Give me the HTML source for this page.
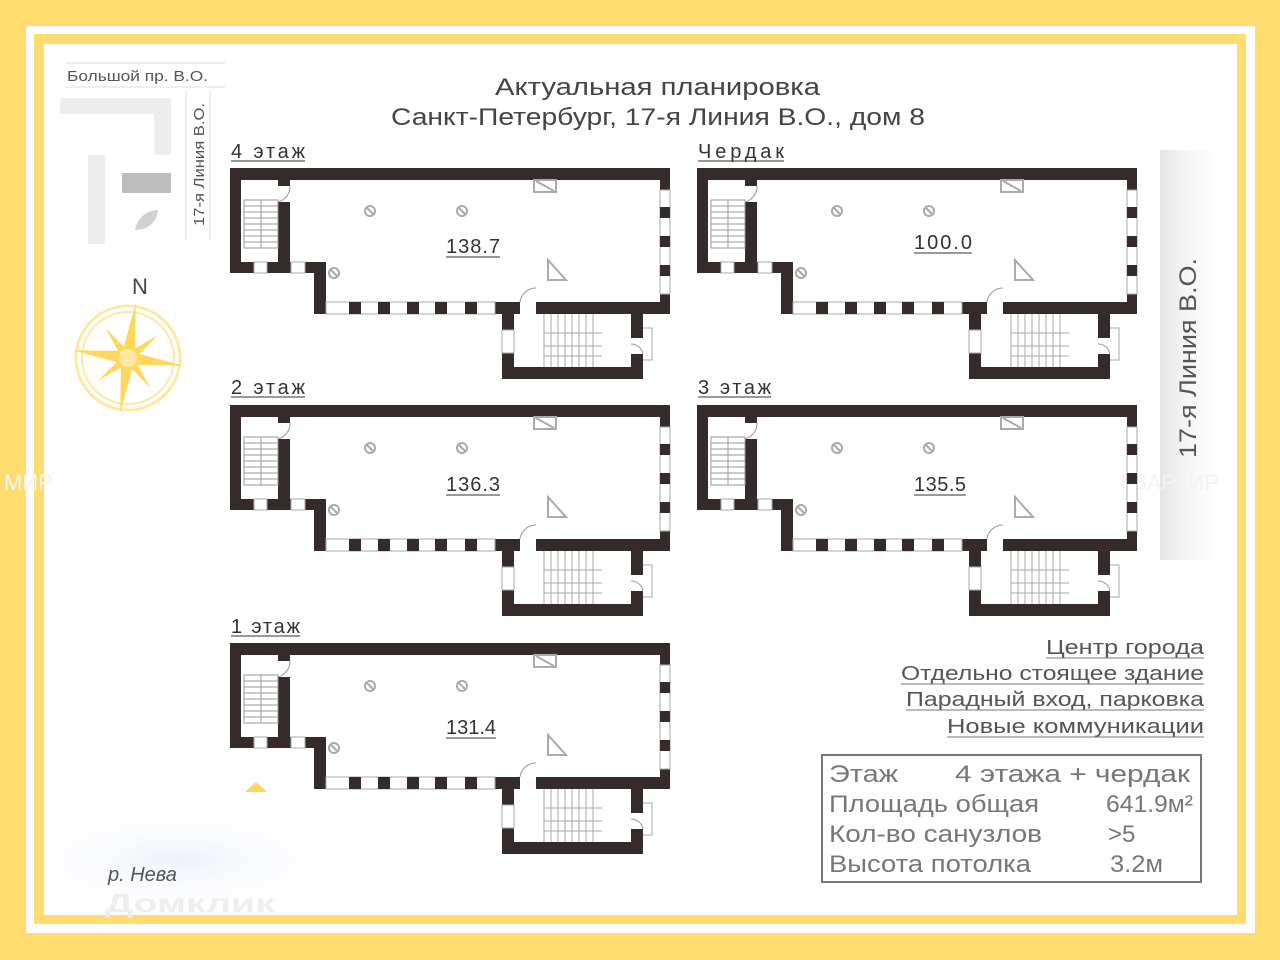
<!DOCTYPE html>
<html><head><meta charset="utf-8"><style>
html,body{margin:0;padding:0;width:1280px;height:960px;overflow:hidden;background:#fedc6e}
svg{display:block}
text{font-family:"Liberation Sans","DejaVu Sans",sans-serif}
</style></head><body>
<svg width="1280" height="960" viewBox="0 0 1280 960" xmlns="http://www.w3.org/2000/svg">
<defs>
<linearGradient id="band" x1="0" y1="0" x2="1" y2="0">
<stop offset="0" stop-color="#e4e4e4"/><stop offset="0.5" stop-color="#f6f6f6"/><stop offset="1" stop-color="#fff"/></linearGradient>
<radialGradient id="wave" cx="0.4" cy="0.5" r="0.6">
<stop offset="0" stop-color="#edf2f9"/><stop offset="1" stop-color="#fff" stop-opacity="0"/></radialGradient>
<clipPath id="inner"><rect x="44" y="44" width="1193" height="871"/></clipPath>
<g id="plan">
 <path fill="#352b2b" fill-rule="evenodd" d="M0,0H440V146H84V105H0Z M11,12H430V134H96V94H11Z"/>
 <rect x="48" y="34" width="12" height="62" fill="#352b2b"/>
 <rect x="48" y="12" width="12" height="6" fill="#352b2b"/>
 <path fill="#352b2b" fill-rule="evenodd" d="M272,134H413V211H272Z M284,146H401V199H284Z"/>
 <g stroke="#999" stroke-width="1" fill="none">
  <rect x="14" y="32" width="34" height="48"/>
  <path d="M14,38H48M14,44H48M14,50H48M14,56H48M14,62H48M14,68H48M14,74H48M31,32V80"/>
  <path d="M60,18A16,16 0 0 1 48,34"/>
 </g>
 <rect x="24" y="94" width="13" height="11" fill="#fff" stroke="#aaa"/>
 <rect x="61" y="94" width="14" height="11" fill="#fff" stroke="#aaa"/>
 <rect x="96" y="134" width="169" height="12" fill="#fff" stroke="#aaa"/>
 <g fill="#352b2b"><rect x="119" y="134" width="12" height="12"/><rect x="148" y="134" width="12" height="12"/><rect x="177" y="134" width="12" height="12"/><rect x="205" y="134" width="12" height="12"/><rect x="235" y="134" width="12" height="12"/></g>
 <rect x="290" y="134" width="16" height="12" fill="#fff"/>
 <path d="M290,134A16,16 0 0 1 306,120" stroke="#999" fill="none"/>
 <rect x="430" y="22" width="10" height="104" fill="#fff" stroke="#aaa"/>
 <g fill="#352b2b"><rect x="430" y="39" width="10" height="11"/><rect x="430" y="68" width="10" height="11"/><rect x="430" y="97" width="10" height="11"/></g>
 <rect x="272" y="162" width="12" height="23" fill="#fff" stroke="#aaa"/>
 <rect x="401" y="170" width="12" height="16" fill="#fff"/>
 <path d="M413,160H422V192H413" stroke="#aaa" fill="none"/>
 <path d="M401,176A12,12 0 0 1 413,186" stroke="#999" fill="none"/>
 <g stroke="#aaa" stroke-width="1" fill="none">
  <path d="M314,146V199M321,146V199M328,146V199M335,146V199M342,146V199M349,146V199M356,146V199M363,146V199"/>
  <path d="M314,165H372M314,178H372M314,188H372"/>
 </g>
 <g stroke="#aaa" stroke-width="2" fill="none">
  <rect x="304" y="12" width="22" height="12"/><path d="M306,13L324,23"/>
  <path d="M318,112V92L336,112Z"/>
  <circle cx="140" cy="43" r="5"/><path d="M137,40L143,46"/>
  <circle cx="232" cy="43" r="5"/><path d="M229,40L235,46"/>
  <circle cx="104" cy="105" r="5"/><path d="M101,102L107,108"/>
 </g>
</g>
</defs>
<rect x="26" y="26" width="1229" height="907" fill="#fff"/>
<rect x="34" y="34" width="1212" height="890" fill="#fedc6e"/>
<rect x="44" y="44" width="1193" height="871" fill="#fff"/>
<ellipse cx="210" cy="860" rx="160" ry="50" fill="url(#wave)" clip-path="url(#inner)"/>
<rect x="1160" y="150" width="56" height="410" fill="url(#band)"/>
<text transform="translate(1196,458) rotate(-90)" font-size="24" fill="#555" textLength="200" lengthAdjust="spacingAndGlyphs">17-я Линия В.О.</text>
<text x="4" y="490" font-size="22" fill="#f3f3f3">МИР</text>
<text x="1120" y="490" font-size="22" fill="#f3f3f3">КВАРТИР</text>
<text x="67" y="81" font-size="15" fill="#555" textLength="141" lengthAdjust="spacingAndGlyphs">Большой пр. В.О.</text>
<line x1="65" y1="63" x2="225" y2="63" stroke="#ddd"/>
<line x1="65" y1="87" x2="225" y2="87" stroke="#ddd"/>
<path d="M60,98H171V155H154V114H60Z" fill="#ececec"/>
<rect x="88" y="155" width="17" height="89" fill="#ececec"/>
<rect x="122" y="173" width="49" height="20" fill="#bdbdbd"/>
<path d="M135,230C138,215 150,210 158,210C157,222 148,230 135,230Z" fill="#d0d0d0"/>
<line x1="186" y1="90" x2="186" y2="240" stroke="#ddd"/>
<line x1="210" y1="90" x2="210" y2="240" stroke="#ddd"/>
<text transform="translate(204,226) rotate(-90)" font-size="15" fill="#555" textLength="123" lengthAdjust="spacingAndGlyphs">17-я Линия В.О.</text>
<text x="140" y="294" font-size="22" fill="#444" text-anchor="middle">N</text>
<g transform="translate(128,358)">
 <circle r="52" fill="none" stroke="#fde9a2" stroke-width="3"/>
 <circle r="46" fill="none" stroke="#fde9a2" stroke-width="2"/>
 <g fill="#fdd85d">
  <path d="M0,-56L7,0L0,56L-7,0Z" transform="rotate(8)"/>
  <path d="M-56,0L0,-7L56,0L0,7Z" transform="rotate(8)"/>
  <path d="M0,-38L5,0L0,38L-5,0Z" transform="rotate(53)"/>
  <path d="M0,-38L5,0L0,38L-5,0Z" transform="rotate(-37)"/>
 </g>
 <circle r="10" fill="#fde9a2" stroke="#fdd85d" stroke-width="2"/>
</g>
<text x="495" y="95" font-size="24" fill="#444" textLength="325" lengthAdjust="spacingAndGlyphs">Актуальная планировка</text>
<text x="391" y="125" font-size="24" fill="#444" textLength="534" lengthAdjust="spacingAndGlyphs">Санкт-Петербург, 17-я Линия В.О., дом 8</text>
<use href="#plan" x="230" y="168"/>
<use href="#plan" x="697" y="168"/>
<use href="#plan" x="230" y="405"/>
<use href="#plan" x="697" y="405"/>
<use href="#plan" x="230" y="643"/>
<g font-size="20" fill="#333" lengthAdjust="spacingAndGlyphs">
<text x="231" y="158" textLength="74">4 этаж</text><line x1="231" y1="161" x2="305" y2="161" stroke="#333"/>
<text x="698" y="158" textLength="86">Чердак</text><line x1="698" y1="161" x2="784" y2="161" stroke="#333"/>
<text x="231" y="394" textLength="74">2 этаж</text><line x1="231" y1="397" x2="305" y2="397" stroke="#333"/>
<text x="698" y="394" textLength="73">3 этаж</text><line x1="698" y1="397" x2="771" y2="397" stroke="#333"/>
<text x="231" y="633" textLength="69">1 этаж</text><line x1="231" y1="636" x2="300" y2="636" stroke="#333"/>
<text x="446" y="253" textLength="54">138.7</text><line x1="446" y1="257" x2="500" y2="257" stroke="#333"/>
<text x="914" y="249" textLength="58">100.0</text><line x1="914" y1="253" x2="972" y2="253" stroke="#333"/>
<text x="446" y="491" textLength="54">136.3</text><line x1="446" y1="495" x2="500" y2="495" stroke="#333"/>
<text x="914" y="491" textLength="52">135.5</text><line x1="914" y1="495" x2="966" y2="495" stroke="#333"/>
<text x="446" y="734" textLength="50">131.4</text><line x1="446" y1="738" x2="496" y2="738" stroke="#333"/>
</g>
<path d="M245,792L256,782L267,792Z" fill="#fdd85d"/>
<g font-size="20" fill="#555">
<text x="1046" y="654" textLength="158" lengthAdjust="spacingAndGlyphs">Центр города</text><line x1="1046" y1="658" x2="1204" y2="658" stroke="#777"/>
<text x="901" y="680" textLength="303" lengthAdjust="spacingAndGlyphs">Отдельно стоящее здание</text><line x1="901" y1="684" x2="1204" y2="684" stroke="#777"/>
<text x="906" y="706" textLength="298" lengthAdjust="spacingAndGlyphs">Парадный вход, парковка</text><line x1="906" y1="710" x2="1204" y2="710" stroke="#777"/>
<text x="947" y="733" textLength="257" lengthAdjust="spacingAndGlyphs">Новые коммуникации</text><line x1="947" y1="737" x2="1204" y2="737" stroke="#777"/>
</g>
<rect x="822" y="755" width="379" height="127" fill="none" stroke="#777" stroke-width="2"/>
<g font-size="24" fill="#777">
<text x="829" y="782" textLength="69" lengthAdjust="spacingAndGlyphs">Этаж</text><text x="955" y="782" textLength="235" lengthAdjust="spacingAndGlyphs">4 этажа + чердак</text>
<text x="829" y="812" textLength="210" lengthAdjust="spacingAndGlyphs">Площадь общая</text><text x="1106" y="812" textLength="87" lengthAdjust="spacingAndGlyphs">641.9м²</text>
<text x="829" y="842" textLength="213" lengthAdjust="spacingAndGlyphs">Кол-во санузлов</text><text x="1108" y="842">&gt;5</text>
<text x="829" y="872" textLength="202" lengthAdjust="spacingAndGlyphs">Высота потолка</text><text x="1110" y="872" textLength="53" lengthAdjust="spacingAndGlyphs">3.2м</text>
</g>
<text x="108" y="881" font-size="20" font-style="italic" fill="#555">р. Нева</text>
<text x="105" y="912" font-size="26" font-weight="bold" fill="#eeeeee" textLength="170" lengthAdjust="spacingAndGlyphs">Домклик</text>
</svg>
</body></html>
